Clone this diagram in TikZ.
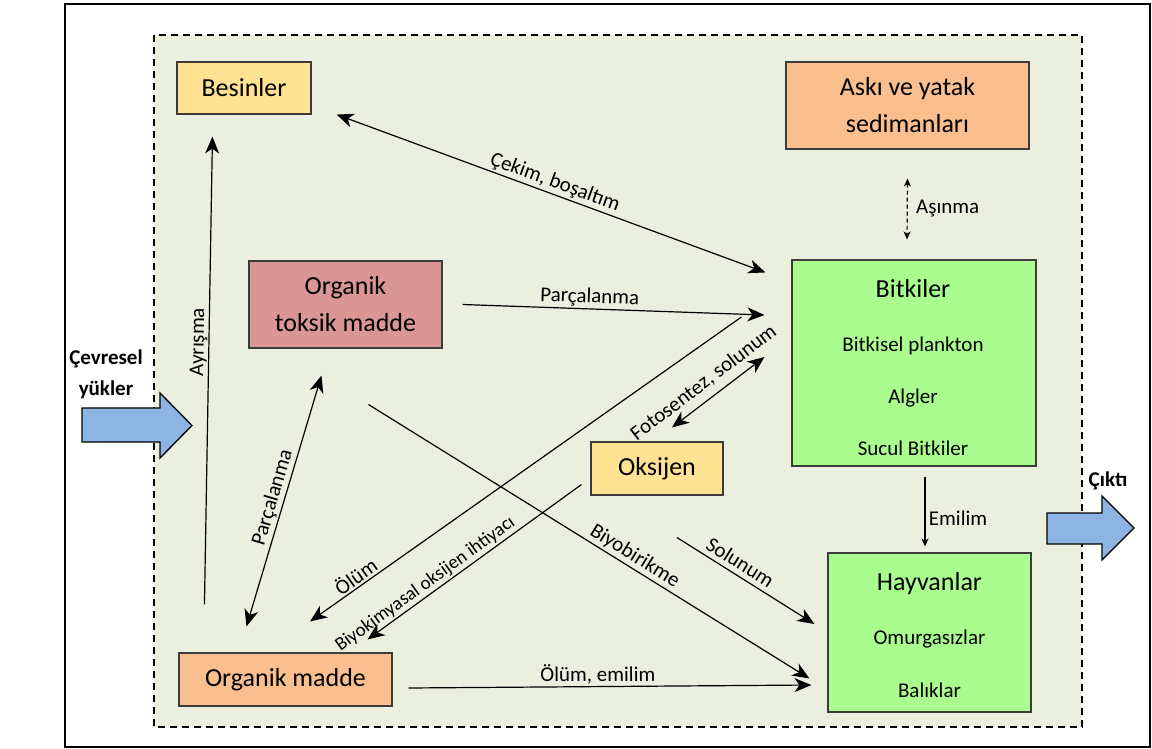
\documentclass[tikz,border=0pt]{standalone}
\usepackage{fontspec}
\setmainfont{Carlito}
\usetikzlibrary{arrows.meta, positioning, calc}
\tikzset{->, >={Stealth[length=17pt, width=14pt, inset=5pt]}, node distance = 2cm}
\definecolor{bgfill}{RGB}{235,239,222}
\definecolor{boxline}{RGB}{60,60,60}
\definecolor{yel}{RGB}{255,226,146}
\definecolor{peach}{RGB}{250,191,143}
\definecolor{rose}{RGB}{218,150,148}
\definecolor{grn}{RGB}{170,252,143}
\definecolor{blu}{RGB}{141,180,226}
\newcommand\bigtxt{\fontsize{26}{37}\selectfont}
\newcommand\lbltxt{\fontsize{21}{25}\selectfont}
\newcommand\smalltxt{\fontsize{19}{23}\selectfont}

\begin{document}
\begin{tikzpicture}[x=1pt, y=-1pt, line width=1.2pt,
    box/.style={draw=boxline, line width=1.1pt, align=center, font=\bigtxt},
    lbl/.style={font=\lbltxt, sloped, above, inner sep=2pt},
    small/.style={>={Stealth[length=8pt, width=7pt, inset=2.5pt]}}]
    \useasboundingbox (0,0) rectangle (1152,749);
    \draw[-, line width=2pt] (65,4) rectangle (1150,747);
    \draw[-, line width=1.5pt, dash pattern=on 7pt off 5pt, fill=bgfill] (154,35) rectangle (1082,727);

    % boxes
    \node[box, fill=yel, minimum width=134pt, minimum height=52pt] (bes) at (244,88) {Besinler};
    \node[box, fill=peach, minimum width=243pt, minimum height=87pt] (ask) at (907.5,105.5) {Askı ve yatak\\sedimanları};
    \node[box, fill=rose, minimum width=193pt, minimum height=87pt] (tox) at (345.5,304.5) {Organik\\toksik madde};
    \node[box, fill=grn, minimum width=244pt, minimum height=206pt] (bit) at (914,363) {};
    \node[box, fill=yel, minimum width=132pt, minimum height=53pt] (oks) at (657,468.5) {Oksijen};
    \node[box, fill=peach, minimum width=213pt, minimum height=53pt] (om) at (285.5,679.5) {Organik madde};
    \node[box, fill=grn, minimum width=203pt, minimum height=159pt] (hay) at (929.5,632.5) {};

    \node[font=\bigtxt, anchor=base] (bitT) at (913,297) {Bitkiler};
    \node[font=\lbltxt, anchor=base] (bit1) at (913,351) {Bitkisel plankton};
    \node[font=\lbltxt, anchor=base] (bit2) at (913,403) {Algler};
    \node[font=\lbltxt, anchor=base] (bit3) at (913,455) {Sucul Bitkiler};
    \node[font=\bigtxt, anchor=base] (hayT) at (929.5,590) {Hayvanlar};
    \node[font=\lbltxt, anchor=base] (hay1) at (929.5,644) {Omurgasızlar};
    \node[font=\lbltxt, anchor=base] (hay2) at (929.5,697) {Balıklar};

    % loads in and out
    \draw[-, fill=blu, line width=1.3pt] (82,408) -- (160,408) -- (160,393) -- (192,425.5)
        -- (160,458) -- (160,442) -- (82,442) -- cycle;
    \draw[-, fill=blu, line width=1.3pt] (1047,513) -- (1102,513) -- (1102,496) -- (1134,528)
        -- (1102,560) -- (1102,544) -- (1047,544) -- cycle;
    \node[font=\fontsize{21}{31}\selectfont\bfseries, align=center] (load) at (106,374) {Çevresel\\yükler};
    \node[font=\lbltxt\bfseries] (out) at (1108,481) {Çıktı};

    % flows
    \draw ($(om.north west)+(26,-48)$) -- node[lbl, pos=0.56, inner sep=1pt] (ayrL) {Ayrışma} ($(bes.south west)+(36,22)$);
    \draw[<->] ($(bes.south east)+(25,0)$) -- node[lbl] (cekL) {Çekim, boşaltım} ($(bit.north west)+(-26,13)$);
    \draw ($(tox.east)+(20,0)$) -- node[lbl, pos=0.42] (parcL1) {Parçalanma} ($(bit.west)+(-27,-48)$);
    \draw[<->] ($(oks.north)+(15,-14)$) -- node[lbl, above=5pt, pos=0.45] (fotoL) {Fotosentez, solunum} ($(bit.west)+(-27,-6)$);
    \draw ($(bit.west)+(-50,-46)$) -- node[lbl, pos=0.88] (olumL) {Ölüm} ($(om.north)+(24.5,-31)$);
    \draw ($(oks.south west)+(-9,-11)$) -- node[lbl, pos=0.7, font=\smalltxt] (bodL) {Biyokimyasal oksijen ihtiyacı} ($(om.north east)+(-25,-13)$);
    \draw[<->] ($(om.north west)+(68,-26)$) -- node[lbl] (parcL2) {Parçalanma} ($(tox.south west)+(73,27)$);
    \draw ($(tox.south)+(23,56)$) -- node[lbl, pos=0.59] (biyoL) {Biyobirikme} ($(hay.west)+(-18,46)$);
    \draw ($(oks.south)+(20,42)$) -- node[lbl, above=3pt, pos=0.41] (solL) {Solunum} ($(hay.west)+(-13,-8.5)$);
    \draw ($(om.east)+(16,8.5)$) -- node[lbl, pos=0.47] (emL) {Ölüm, emilim} ($(hay.west)+(-16,52.5)$);
    \draw[small] ($(bit.south)+(11,10)$) -- node[right, pos=0.6, font=\lbltxt] (emilimL) {Emilim} ($(hay.north)+(-4.5,-6)$);
    \draw[<->, small, dash pattern=on 4pt off 3pt] ($(ask.south)+(0,29)$) -- node[right=5pt, font=\lbltxt] (asL) {Aşınma} ($(bit.north)+(-7,-20)$);
\end{tikzpicture}
\end{document}
